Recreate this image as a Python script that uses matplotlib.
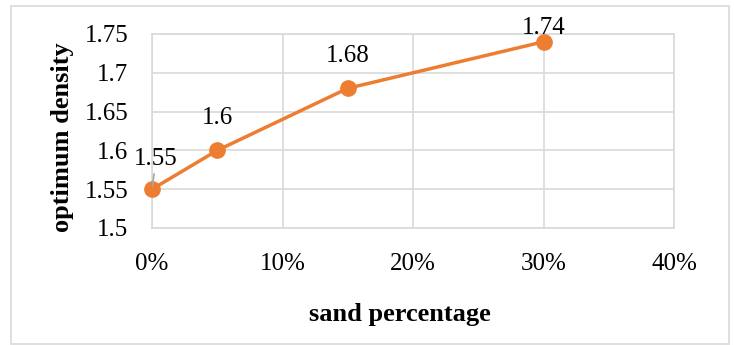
import matplotlib.pyplot as plt
from matplotlib.patches import Rectangle
from matplotlib.ticker import PercentFormatter

sand = [0.00, 0.05, 0.15, 0.30]
density = [1.55, 1.60, 1.68, 1.74]
labels = ["1.55", "1.6", "1.68", "1.74"]

plt.rcParams["font.family"] = ["Liberation Serif", "DejaVu Serif"]

fig = plt.figure(figsize=(7.34, 3.45), dpi=100)
ax = fig.add_axes([152 / 734, 1 - 228 / 345, 522 / 734, 194 / 345])

grid_color = "#d9d9d9"
orange = "#ed7d31"

ax.plot(sand, density, color=orange, linewidth=2.5, marker="o",
        markersize=11, clip_on=False, zorder=3)

# label offsets in points (dx, dy)
offsets = [(3, 22), (0, 23), (0, 23), (0, 10)]
for x, y, txt, (dx, dy) in zip(sand, density, labels, offsets):
    if txt == "1.55":
        ax.annotate(txt, (x, y), xytext=(dx, dy), textcoords="offset points",
                    ha="center", va="center", fontsize=18,
                    arrowprops=dict(arrowstyle="-", color="#a6a6a6", lw=1.2,
                                    shrinkA=1, shrinkB=2))
    else:
        ax.annotate(txt, (x, y), xytext=(dx, dy), textcoords="offset points",
                    ha="center", va="center", fontsize=18)

ax.set_xlim(0, 0.40)
ax.set_ylim(1.5, 1.75)
ax.set_xticks([0, 0.1, 0.2, 0.3, 0.4])
ax.set_yticks([1.5, 1.55, 1.6, 1.65, 1.7, 1.75])
ax.set_yticklabels(["1.5", "1.55", "1.6", "1.65", "1.7", "1.75"])
ax.xaxis.set_major_formatter(PercentFormatter(1.0, decimals=0))
ax.tick_params(axis="both", length=0, labelsize=18)
ax.tick_params(axis="y", pad=17)
ax.tick_params(axis="x", pad=18)
ax.grid(True, color=grid_color, linewidth=1.2)
ax.set_axisbelow(True)
for s in ax.spines.values():
    s.set_color(grid_color)
    s.set_linewidth(1.2)

ax.set_xlabel("sand percentage", fontsize=19, fontweight="bold", va="center")
ax.xaxis.set_label_coords(0.475, -0.448)
ax.set_ylabel("optimum density", fontsize=19, fontweight="bold", va="center")
ax.yaxis.set_label_coords(-0.172, 0.469)

# chart area border
fig.patches.append(Rectangle((11 / 734, 1 / 345), 718 / 734, 338 / 345,
                             transform=fig.transFigure, fill=False,
                             edgecolor=grid_color, linewidth=1.2))

fig.savefig("out.png", dpi=100)
